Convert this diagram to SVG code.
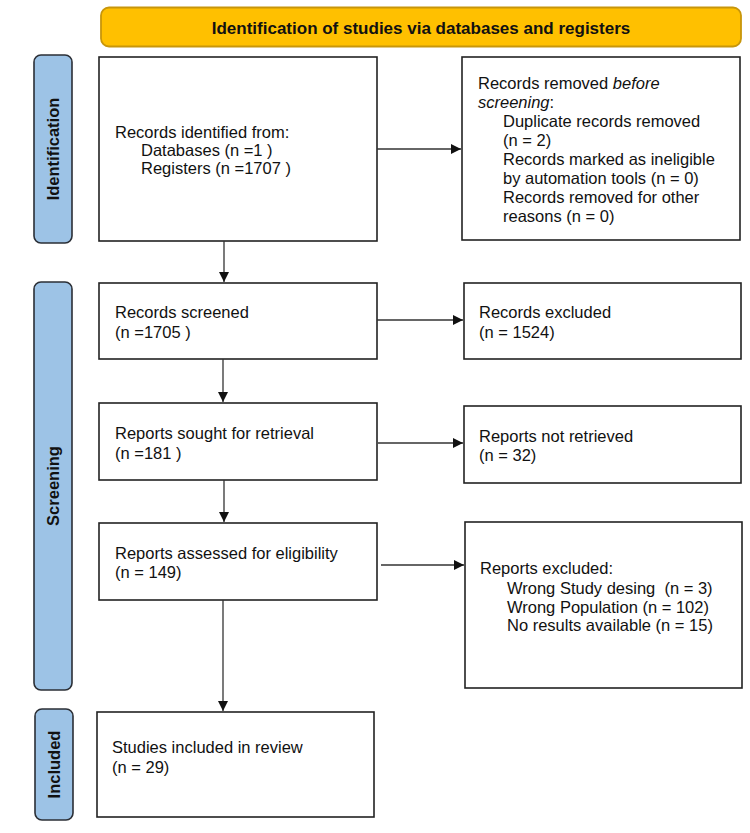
<svg xmlns="http://www.w3.org/2000/svg" width="750" height="833" viewBox="0 0 750 833">
<defs>
<style>
.box{fill:#fff;stroke:#222;stroke-width:1.6}
.lbl{fill:#9DC3E6;stroke:#2b2f36;stroke-width:1.6}
.t{font-family:"Liberation Sans",Arial,sans-serif;font-size:16.5px;fill:#111}
.b{font-family:"Liberation Sans",Arial,sans-serif;font-size:16.5px;font-weight:bold;fill:#111}
.c{stroke:#333;stroke-width:1.3;fill:none}
</style>
<marker id="ah" markerWidth="10" markerHeight="10" refX="10" refY="5" orient="auto" markerUnits="userSpaceOnUse">
<path d="M0,0 L10,5 L0,10 z" fill="#111"/>
</marker>
</defs>
<rect width="750" height="833" fill="#fff"/>

<g id="header">
<rect x="101" y="7.5" width="640" height="39" rx="8" fill="#FFC000" stroke="#C8960A" stroke-width="1.8"/>
<text class="b" x="421" y="34" text-anchor="middle" style="font-size:17px">Identification of studies via databases and registers</text>
</g>

<g id="label-identification">
<rect class="lbl" x="34" y="55" width="38" height="188" rx="7"/>
<text class="b" transform="translate(53,149) rotate(-90)" x="0" y="6" text-anchor="middle">Identification</text>
</g>
<g id="label-screening">
<rect class="lbl" x="34" y="282" width="38" height="408" rx="7"/>
<text class="b" transform="translate(53,486) rotate(-90)" x="0" y="6" text-anchor="middle">Screening</text>
</g>
<g id="label-included">
<rect class="lbl" x="35" y="709" width="38" height="111" rx="7"/>
<text class="b" transform="translate(54,764.5) rotate(-90)" x="0" y="6" text-anchor="middle">Included</text>
</g>

<g id="records-identified">
<rect class="box" x="99" y="57" width="278" height="184"/>
<text class="t" x="115" y="138">Records identified from:</text>
<text class="t" x="141" y="156">Databases (n =1 )</text>
<text class="t" x="141" y="174">Registers (n =1707 )</text>
</g>

<g id="records-removed">
<rect class="box" x="462" y="57" width="278" height="183"/>
<text class="t" x="478" y="89">Records removed <tspan font-style="italic">before</tspan></text>
<text class="t" x="478" y="108"><tspan font-style="italic">screening</tspan>:</text>
<text class="t" x="503" y="127">Duplicate records removed</text>
<text class="t" x="503" y="146">(n = 2)</text>
<text class="t" x="503" y="165">Records marked as ineligible</text>
<text class="t" x="503" y="184">by automation tools (n = 0)</text>
<text class="t" x="503" y="203">Records removed for other</text>
<text class="t" x="503" y="222">reasons (n = 0)</text>
</g>

<g id="records-screened">
<rect class="box" x="99" y="283" width="278" height="76"/>
<text class="t" x="115" y="318">Records screened</text>
<text class="t" x="115" y="338">(n =1705 )</text>
</g>

<g id="records-excluded">
<rect class="box" x="464" y="283" width="277" height="76"/>
<text class="t" x="479" y="318">Records excluded</text>
<text class="t" x="479" y="338">(n = 1524)</text>
</g>

<g id="reports-sought">
<rect class="box" x="99" y="403" width="278" height="77"/>
<text class="t" x="115" y="439">Reports sought for retrieval</text>
<text class="t" x="115" y="459">(n =181 )</text>
</g>

<g id="reports-not-retrieved">
<rect class="box" x="464" y="406" width="277" height="77"/>
<text class="t" x="479" y="442">Reports not retrieved</text>
<text class="t" x="479" y="461">(n = 32)</text>
</g>

<g id="reports-assessed">
<rect class="box" x="99" y="523" width="278" height="77"/>
<text class="t" x="115" y="559">Reports assessed for eligibility</text>
<text class="t" x="115" y="578">(n = 149)</text>
</g>

<g id="reports-excluded">
<rect class="box" x="465" y="522" width="277" height="166"/>
<text class="t" x="480" y="574">Reports excluded:</text>
<text class="t" x="507" y="594" style="white-space:pre">Wrong Study desing  (n = 3)</text>
<text class="t" x="507" y="613">Wrong Population (n = 102)</text>
<text class="t" x="507" y="631">No results available (n = 15)</text>
</g>

<g id="studies-included">
<rect class="box" x="97" y="712" width="277" height="105"/>
<text class="t" x="112" y="753">Studies included in review</text>
<text class="t" x="112" y="773">(n = 29)</text>
</g>

<g id="connectors">
<line class="c" x1="377" y1="149" x2="461" y2="149" marker-end="url(#ah)"/>
<line class="c" x1="224" y1="241" x2="224" y2="282" marker-end="url(#ah)"/>
<line class="c" x1="377" y1="320" x2="463" y2="320" marker-end="url(#ah)"/>
<line class="c" x1="223" y1="359" x2="223" y2="402" marker-end="url(#ah)"/>
<line class="c" x1="378" y1="443" x2="463" y2="443" marker-end="url(#ah)"/>
<line class="c" x1="224" y1="480" x2="224" y2="522" marker-end="url(#ah)"/>
<line class="c" x1="381" y1="565" x2="464" y2="565" marker-end="url(#ah)"/>
<line class="c" x1="223" y1="600" x2="223" y2="711" marker-end="url(#ah)"/>
</g>
</svg>
